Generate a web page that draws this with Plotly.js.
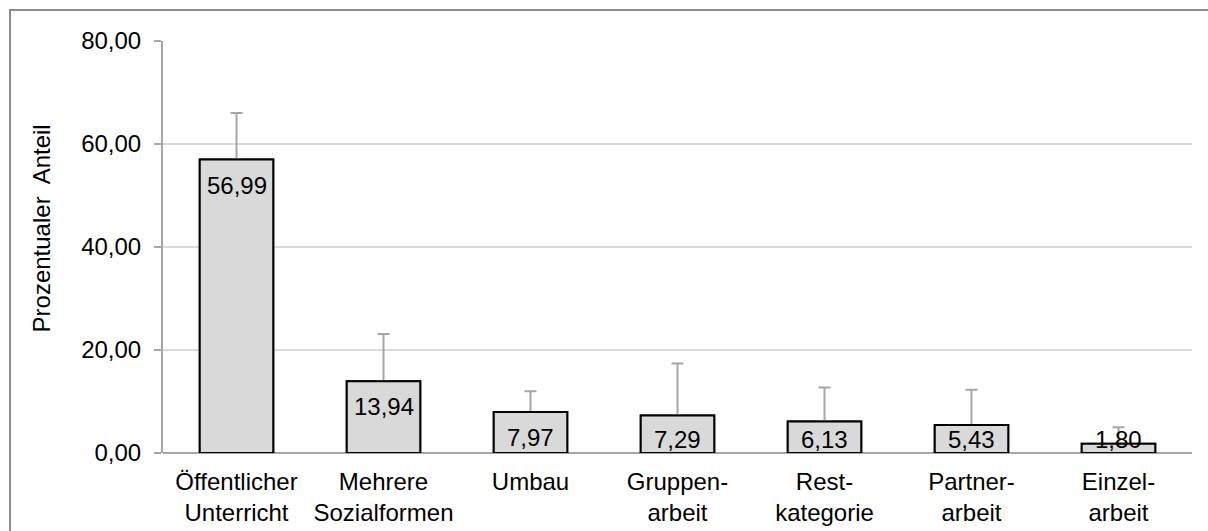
<!DOCTYPE html>
<html>
<head>
<meta charset="utf-8">
<script src="https://cdn.plot.ly/plotly-3.0.1.min.js"></script>
<style>
  html, body { margin: 0; padding: 0; background: #fff; }
  #wrap { position: relative; width: 1208px; height: 531px; overflow: hidden; }
  #chart { width: 1208px; height: 531px; }
  #frame { position: absolute; left: 9px; top: 9px; width: 1220px; height: 540px;
           border: 2px solid #8c8c8c; pointer-events: none; box-sizing: border-box; }
</style>
</head>
<body>
<div id="wrap">
  <div id="chart"></div>
  <div id="frame"></div>
</div>
<script>
// ---- data ----
const categories = [
  "Öffentlicher<br>Unterricht",
  "Mehrere<br>Sozialformen",
  "Umbau",
  "Gruppen-<br>arbeit",
  "Rest-<br>kategorie",
  "Partner-<br>arbeit",
  "Einzel-<br>arbeit"
];
const values = [56.99, 13.94, 7.97, 7.29, 6.13, 5.43, 1.80];
const errorTops = [66.0, 23.1, 12.0, 17.4, 12.7, 12.3, 5.0];
const yTickVals = [0, 20, 40, 60, 80];
const yTitle = 'Prozentualer\u00a0 Anteil';

// ---- derived ----
const errPlus = values.map((v, i) => errorTops[i] - v);
const errMinus = values.map(() => 0);
const fmt = v => v.toFixed(2).replace('.', ',');
const FONT = 'Liberation Sans, Arial, sans-serif';
const FS = 24;

const annotations = values.map((v, i) => ({
  x: categories[i],
  y: Math.max(v - 5.0, 2.6),
  xref: 'x', yref: 'y',
  text: fmt(v),
  showarrow: false,
  yanchor: 'middle',
  xanchor: 'center',
  font: { family: FONT, size: FS, color: '#000' }
}));
annotations.push({
  xref: 'paper', yref: 'paper',
  x: 0, y: 0.545, xshift: -122,
  xanchor: 'center', yanchor: 'middle',
  textangle: -90,
  text: yTitle,
  showarrow: false,
  font: { family: FONT, size: FS, color: '#000' }
});

const barStyle = { color: '#d9d9d9', line: { color: '#000', width: 2 } };

const traceErr = {
  type: 'bar',
  x: categories,
  y: values,
  marker: barStyle,
  error_y: {
    type: 'data', symmetric: false,
    array: errPlus, arrayminus: errMinus,
    color: '#a6a6a6', thickness: 2, width: 6
  },
  hoverinfo: 'skip'
};
const traceBar = {
  type: 'bar',
  x: categories,
  y: values,
  marker: barStyle,
  hoverinfo: 'skip'
};

const layout = {
  width: 1208, height: 531,
  margin: { l: 163, r: 16, t: 41, b: 78, pad: 0 },
  paper_bgcolor: '#fff', plot_bgcolor: '#fff',
  font: { family: FONT, size: FS, color: '#000' },
  separators: ',.',
  barmode: 'overlay',
  bargap: 0.5,
  showlegend: false,
  xaxis: {
    type: 'category',
    showgrid: false,
    showline: false,
    zeroline: false,
    ticks: '',
    ticklabelstandoff: 12,
    tickfont: { family: FONT, size: FS, color: '#000' },
    fixedrange: true
  },
  yaxis: {
    range: [0, 80],
    tickvals: yTickVals,
    tickformat: '.2f',
    showgrid: true, gridcolor: '#d9d9d9', gridwidth: 2,
    zeroline: true, zerolinecolor: '#a6a6a6', zerolinewidth: 2,
    showline: true, linecolor: '#a6a6a6', linewidth: 2,
    ticks: 'outside', ticklen: 7, tickwidth: 2, tickcolor: '#a6a6a6',
    ticklabelstandoff: 8,
    tickfont: { family: FONT, size: FS, color: '#000' },
    fixedrange: true
  },
  annotations: annotations
};

Plotly.newPlot('chart', [traceErr, traceBar], layout, { displayModeBar: false, staticPlot: true });
</script>
</body>
</html>
